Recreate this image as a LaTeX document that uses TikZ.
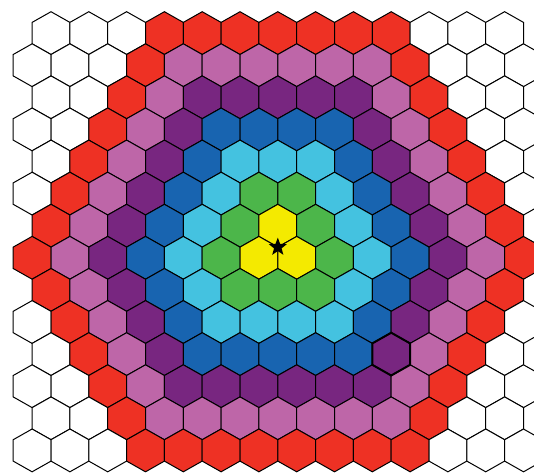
\documentclass[tikz,border=0pt]{standalone}
\usepackage{tikz}
\usetikzlibrary{shapes.geometric,calc}
\definecolor{ring0}{RGB}{244,234,0}
\definecolor{ring1}{RGB}{76,182,74}
\definecolor{ring2}{RGB}{68,194,224}
\definecolor{ring3}{RGB}{24,100,176}
\definecolor{ring4}{RGB}{120,38,128}
\definecolor{ring5}{RGB}{190,102,168}
\definecolor{ring6}{RGB}{238,49,36}

\begin{document}
\begin{tikzpicture}[
    x=1pt,y=-1pt,
    declare function={hd(\a,\b,\c,\d)=abs(\b-\d)+max(0,(abs(\a-\c)-abs(\b-\d))/2);},
    hexcell/.style={draw=black,line width=1pt},
    marked/.style={draw=black,line width=2pt},
    goal/.style={star,star points=5,star point ratio=2.4,fill=black,
                 inner sep=0pt,minimum size=19pt}
]
\useasboundingbox (0,0) rectangle (534,472);
\clip (0,0) rectangle (534,472);

\foreach \r in {0,...,13}{
  \foreach \k in {0,...,13}{
    \pgfmathtruncatemacro\X{2*\k-mod(\r,2)}
    \ifnum\X<26
      \pgfmathtruncatemacro\ring{min(hd(\X,\r,12,6),hd(\X,\r,11,7),hd(\X,\r,13,7))}
      \ifnum\ring>6 \def\hexcol{white}\else\def\hexcol{ring\ring}\fi
      \coordinate (h\r-\k) at ({51+18.9*\X},{33.1+32.1*\r});
      \draw[hexcell,fill=\hexcol] (h\r-\k) +(0,-21.4) -- +(18.9,-10.7) -- +(18.9,10.7)
        -- +(0,21.4) -- +(-18.9,10.7) -- +(-18.9,-10.7) -- cycle;
    \fi
  }
}

\draw[marked] (h10-9) +(0,-21.4) -- +(18.9,-10.7) -- +(18.9,10.7)
  -- +(0,21.4) -- +(-18.9,10.7) -- +(-18.9,-10.7) -- cycle;

\node[goal] (goal) at ($(h6-6)+(0,21.4)$) {};
\end{tikzpicture}
\end{document}
